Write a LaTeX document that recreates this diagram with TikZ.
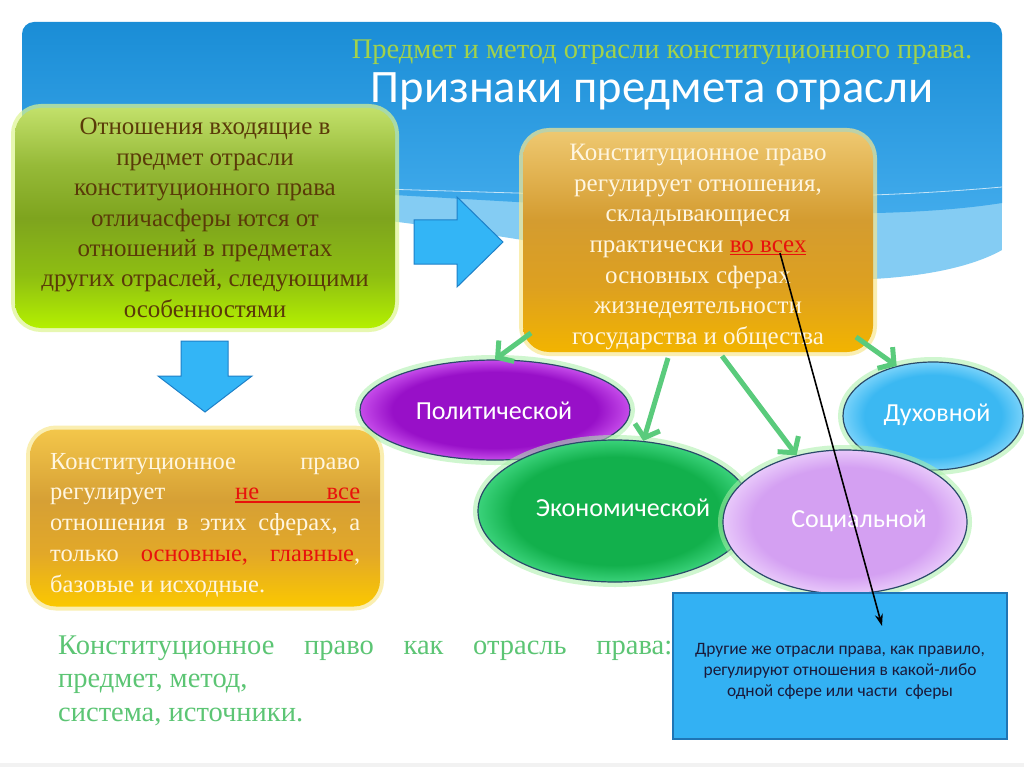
\documentclass[tikz,border=0pt]{standalone}
\usepackage{fontspec}
\setmainfont{Liberation Serif}
\newfontfamily\carl{Carlito}
\usetikzlibrary{arrows.meta,shapes.geometric,calc}

\definecolor{skyTop}{HTML}{1A8DD6}
\definecolor{skyBot}{HTML}{45AEEE}
\definecolor{skyBand}{HTML}{84CCF3}
\definecolor{gA}{HTML}{B4F000}
\definecolor{gB}{HTML}{8EBE12}
\definecolor{gC}{HTML}{7EA41E}
\definecolor{gD}{HTML}{96BA38}
\definecolor{gE}{HTML}{C2E06A}
\definecolor{brownT}{HTML}{5A3A08}
\definecolor{oA}{HTML}{F2B400}
\definecolor{oB}{HTML}{DDA020}
\definecolor{oC}{HTML}{D49C30}
\definecolor{oD}{HTML}{EEC870}
\definecolor{pA}{HTML}{FBC800}
\definecolor{pB}{HTML}{E2A828}
\definecolor{pC}{HTML}{D6A035}
\definecolor{pD}{HTML}{F3C64A}
\definecolor{creamT}{HTML}{FFF6E0}
\definecolor{redT}{HTML}{E8120C}
\definecolor{polB}{HTML}{9810C8}
\definecolor{polR}{HTML}{C64CEA}
\definecolor{ecoB}{HTML}{12B04C}
\definecolor{ecoR}{HTML}{3AD27A}
\definecolor{socB}{HTML}{D4A0F2}
\definecolor{socR}{HTML}{E8C8FA}
\definecolor{duhB}{HTML}{3BB8F2}
\definecolor{duhR}{HTML}{78D2FA}
\definecolor{ellLine}{HTML}{2A4A6A}
\definecolor{glowG}{HTML}{A8F0A8}
\definecolor{glowY}{HTML}{F8E890}
\definecolor{glowL}{HTML}{DDF590}
\definecolor{arrG}{HTML}{5ACB7C}
\definecolor{boxBlue}{HTML}{33B1F3}
\definecolor{boxBlueLine}{HTML}{1F75B5}
\definecolor{blueArr}{HTML}{33B5F6}
\definecolor{blueArrLine}{HTML}{1E80C8}
\definecolor{titleG}{HTML}{A2D24A}
\definecolor{bottomG}{HTML}{5CC574}
\definecolor{darkT}{HTML}{1A1A3A}

\pgfdeclareverticalshading{gshade}{100bp}{color(0bp)=(gA); color(25bp)=(gA); color(37bp)=(gB); color(50bp)=(gC); color(62bp)=(gD); color(75bp)=(gE); color(100bp)=(gE)}
\pgfdeclareverticalshading{oshade}{100bp}{color(0bp)=(oA); color(25bp)=(oA); color(40bp)=(oB); color(55bp)=(oC); color(75bp)=(oD); color(100bp)=(oD)}
\pgfdeclareverticalshading{pshade}{100bp}{color(0bp)=(pA); color(25bp)=(pA); color(40bp)=(pB); color(55bp)=(pC); color(75bp)=(pD); color(100bp)=(pD)}
\pgfdeclareradialshading{polsh}{\pgfpoint{0bp}{0bp}}{color(0bp)=(polB); color(19bp)=(polB); color(25bp)=(polR); color(50bp)=(polR)}
\pgfdeclareradialshading{ecosh}{\pgfpoint{0bp}{0bp}}{color(0bp)=(ecoB); color(19bp)=(ecoB); color(25bp)=(ecoR); color(50bp)=(ecoR)}
\pgfdeclareradialshading{socsh}{\pgfpoint{0bp}{0bp}}{color(0bp)=(socB); color(19bp)=(socB); color(25bp)=(socR); color(50bp)=(socR)}
\pgfdeclareradialshading{duhsh}{\pgfpoint{0bp}{0bp}}{color(0bp)=(duhB); color(19bp)=(duhB); color(25bp)=(duhR); color(50bp)=(duhR)}

\newsavebox\ulbox
\newcommand\redul[1]{\sbox\ulbox{\color{redT}#1}\rlap{\textcolor{redT}{\rule[-3pt]{\wd\ulbox}{1.4pt}}}\usebox\ulbox}

\begin{document}
\begin{tikzpicture}[x=1pt,y=-1pt,
  roundbox/.style={rectangle, rounded corners=26, shade, inner sep=0pt},
  ell/.style={ellipse, shade, draw=ellLine, line width=1.2pt, inner sep=0pt,
    preaction={draw=glowG, line width=10pt, opacity=0.55}},
  elltext/.style={font=\carl\fontsize{26}{30}\selectfont, text=white, inner sep=0pt},
  garrow/.style={draw=arrG, line width=5pt, -{Straight Barb[length=11pt,width=26pt]}},
  blockarrow/.style={fill=blueArr, draw=blueArrLine, line width=1pt, line join=miter}
]
\useasboundingbox (0,0) rectangle (1024,767);
\fill[white] (0,0) rectangle (1024,767);
\fill[black!5] (0,763) rectangle (1024,767);

% sky header
\begin{scope}
\clip[rounded corners=12] (22,22) rectangle (1002,400);
\fill[skyBand] (22,150) -- (1002,150) -- (1002,250)
  .. controls (940,285) and (800,290) .. (650,262)
  .. controls (500,235) and (300,200) .. (22,195) -- cycle;
\shade[top color=skyTop, bottom color=skyBot] (22,22) -- (1002,22) -- (1002,203)
  .. controls (800,235) and (400,185) .. (22,180) -- cycle;
\draw[white, opacity=0.7, line width=0.8pt] (380,189) .. controls (600,195) and (800,205) .. (1002,187);
\end{scope}

% titles
\node[font=\fontsize{28.5}{32}\selectfont, text=titleG, inner sep=0pt] (t1) at (662,52) {Предмет и метод отрасли конституционного права.};
\node[font=\carl\fontsize{46.5}{52}\selectfont, text=white, inner sep=0pt] (t2) at (652,91) {Признаки предмета отрасли};

% green box
\node[roundbox, shading=gshade, minimum width=380, minimum height=220, text=brownT, align=center,
  font=\fontsize{25}{30.4}\selectfont,
  preaction={draw=glowL, line width=8pt, opacity=0.7}] (g) at (205,218)
  {Отношения входящие в\\предмет отрасли\\конституционного права\\отличасферы ются от\\отношений в предметах\\других отраслей, следующими\\особенностями};

% blue block arrows
\draw[blockarrow] (414,220) -- (457,220) -- (457,197) -- (503,242) -- (457,287) -- (457,264) -- (414,264) -- cycle;
\draw[blockarrow] (181,341) -- (228,341) -- (228,376) -- (252,376) -- (205,412) -- (158,376) -- (181,376) -- cycle;

% orange box top right
\node[roundbox, shading=oshade, minimum width=350, minimum height=220,
  preaction={draw=glowY, line width=8pt, opacity=0.7}] (ob) at (698,242) {};
\node[text=creamT, align=center, inner sep=0pt, font=\fontsize{25}{30.6}\selectfont] (obT) at (698,247)
  {Конституционное право\\регулирует отношения,\\складывающиеся\\практически \redul{во всех}\\основных сферах\\жизнедеятельности\\государства и общества};

% orange box bottom left
\node[roundbox, shading=pshade, minimum width=350, minimum height=177,
  preaction={draw=glowY, line width=8pt, opacity=0.7}] (ob2) at (205,518) {};
\node[anchor=base west, inner sep=0pt, text=creamT] (ob2T) at (50,469)
  {\begin{minipage}[t]{310pt}\fontsize{24.5}{30.75}\selectfont
  \hbox to 310pt{Конституционное\hfill право}
  \hbox to 310pt{регулирует\hfill\redul{\hbox to 125pt{не\hfill все}}}
  \hbox to 310pt{отношения\hfill в\hfill этих\hfill сферах,\hfill а}
  \hbox to 310pt{только\hfill{\color{redT}основные,}\hfill{\color{redT}главные},}
  \hbox{базовые и исходные.}
  \end{minipage}};

% ellipses
\node[ell, shading=polsh, minimum width=270, minimum height=100] (pol) at (495,410) {};
\node[elltext] (polT) at (494,411) {Политической};
\node[ell, shading=ecosh, minimum width=274, minimum height=142] (eco) at (615,511) {};
\node[elltext] (ecoT) at (623,508) {Экономической};
\node[ell, shading=duhsh, minimum width=180, minimum height=108] (duh) at (933,416) {};
\node[elltext] (duhT) at (937,415) {Духовной};
\node[ell, shading=socsh, minimum width=244, minimum height=144] (soc) at (845,522) {};
\node[elltext] (socT) at (859,521) {Социальной};

% green arrows
\coordinate (s1) at (531,333);
\coordinate (s2) at (668,358);
\coordinate (s3) at (722,356);
\coordinate (s4) at (856,337);
\draw[garrow] (s1) -- (pol.north);
\draw[garrow] (s2) -- (eco.68);
\draw[garrow] (s3) -- (soc.126);
\draw[garrow] (s4) -- (duh.126);

% bottom text
\node[anchor=base west, inner sep=0pt, text=bottomG] (bt) at (58,654)
  {\begin{minipage}[t]{614pt}\fontsize{28.5}{33.5}\selectfont
  \hbox to 614pt{Конституционное\hfill право\hfill как\hfill отрасль\hfill права:}
  \hbox{предмет, метод,}
  \hbox{система, источники.}
  \end{minipage}};

% blue box
\node[rectangle, fill=boxBlue, draw=boxBlueLine, line width=1.2pt, minimum width=334, minimum height=146,
  inner sep=0pt] (bb) at (840,666) {};
\node[text=darkT, align=center, font=\carl\fontsize{17.4}{21}\selectfont, inner sep=0pt] (bbT) at (840,671)
  {Другие же отрасли права, как правило,\\регулируют отношения в какой-либо\\одной сфере или части\ \ сферы};

% black arrow
\coordinate (vs) at (780,253);
\coordinate (ve) at (882,626);
\draw[black, line width=1.6pt, -{Stealth[length=12pt,width=8pt]}] (vs) -- (ve);
\end{tikzpicture}
\end{document}
